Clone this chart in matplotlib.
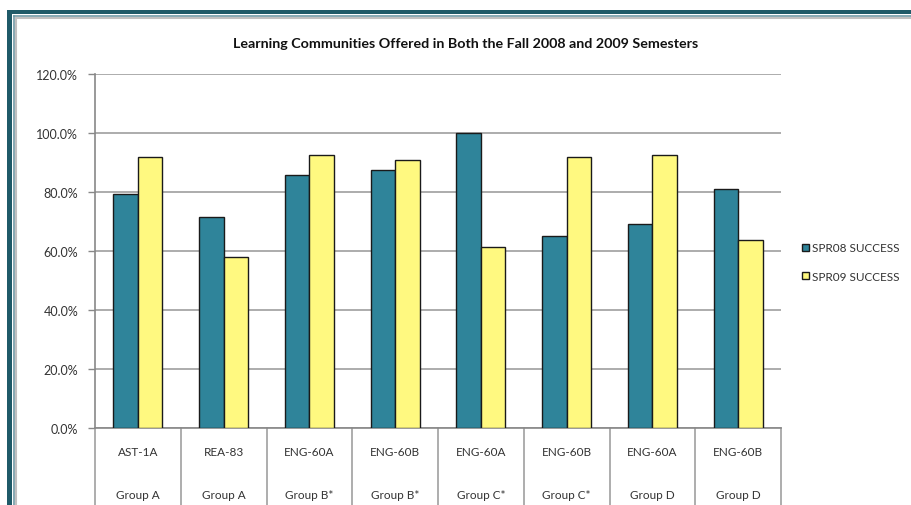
import matplotlib
matplotlib.use("Agg")
import matplotlib.pyplot as plt
from matplotlib.patches import Rectangle
from matplotlib.lines import Line2D
import matplotlib.transforms as mtransforms
import numpy as np

courses = ["AST-1A", "REA-83", "ENG-60A", "ENG-60B", "ENG-60A", "ENG-60B", "ENG-60A", "ENG-60B"]
groups = ["Group A", "Group A", "Group B*", "Group B*", "Group C*", "Group C*", "Group D", "Group D"]
spr08 = [79.3, 71.4, 85.8, 87.5, 100.0, 65.1, 69.3, 81.1]
spr09 = [92.0, 58.0, 92.4, 90.8, 61.4, 92.0, 92.4, 63.6]
series_names = ["SPR08 SUCCESS", "SPR09 SUCCESS"]
yticks = [0, 20, 40, 60, 80, 100, 120]

teal = "#2f849a"
yellow = "#fff980"
FONT = ["Lato", "DejaVu Sans"]
plt.rcParams["font.family"] = FONT

W, H = 911, 506
fig = plt.figure(figsize=(W / 100, H / 100), dpi=100)
fig.patch.set_facecolor("white")

def fx(px):
    return px / W

def fy(py):
    return 1 - py / H

# border decoration (top and left)
fig.patches.append(Rectangle((fx(7), fy(15)), 1, 4 / H, transform=fig.transFigure,
                             facecolor="#1f5a68", edgecolor="none", zorder=0))
fig.patches.append(Rectangle((fx(7), 0), 5 / W, fy(11), transform=fig.transFigure,
                             facecolor="#1f5a68", edgecolor="none", zorder=0))
fig.lines.append(Line2D([fx(13.5), fx(13.5)], [0, fy(16.5)], transform=fig.transFigure,
                        color="#6f9aa5", lw=1.2))
fig.lines.append(Line2D([fx(13.5), 1], [fy(16.5), fy(16.5)], transform=fig.transFigure,
                        color="#6f9aa5", lw=1.2))
fig.lines.append(Line2D([fx(16), fx(16)], [0, fy(19)], transform=fig.transFigure,
                        color="#c0c0c0", lw=1.5))
fig.lines.append(Line2D([fx(16), 1], [fy(19), fy(19)], transform=fig.transFigure,
                        color="#c0c0c0", lw=1.5))

left, right, top, bottom = 95, 781, 75, 429
ax = fig.add_axes([fx(left), fy(bottom), (right - left) / W, (bottom - top) / H])
ax.set_facecolor("none")

x = np.arange(len(courses))
bw = 0.286
ax.bar(x - bw / 2, spr08, bw, color=teal, edgecolor="#1a1a1a", linewidth=1.0, zorder=3,
       label=series_names[0])
ax.bar(x + bw / 2, spr09, bw, color=yellow, edgecolor="#1a1a1a", linewidth=1.0, zorder=3,
       label=series_names[1])

ax.set_xlim(-0.5, len(courses) - 0.5)
ax.set_ylim(0, 120)
ax.set_yticks(yticks)
ax.set_yticklabels([f"{v:.1f}%" for v in yticks], fontsize=9, color="#333333")
ax.yaxis.grid(True, color="#a6a6a6", linewidth=1.3, zorder=0)
ax.set_axisbelow(True)
ax.tick_params(axis="y", length=5, color="#888888", width=1, pad=7)
ax.set_xticks([])
for s in ["top", "right"]:
    ax.spines[s].set_visible(False)
ax.spines["left"].set_color("#888888")
ax.spines["bottom"].set_color("#888888")
ax.spines["left"].set_linewidth(1.2)
ax.spines["bottom"].set_linewidth(1.2)

# category table lines below axis
trans = mtransforms.blended_transform_factory(ax.transData, ax.transAxes)
for b in np.arange(-0.5, len(courses), 1.0):
    ax.plot([b, b], [0, -0.3], transform=trans, color="#a0a0a0", lw=1.2, clip_on=False)

for i in range(len(courses)):
    ax.text(x[i], (bottom - 453) / (bottom - top), courses[i], transform=trans,
            ha="center", va="center", fontsize=8.5, color="#333333")
    ax.text(x[i], (bottom - 496) / (bottom - top), groups[i], transform=trans,
            ha="center", va="center", fontsize=8.5, color="#333333")

fig.text(fx(466), fy(44), "Learning Communities Offered in Both the Fall 2008 and 2009 Semesters",
         ha="center", va="center", fontsize=10.3, fontweight="bold", color="#111111")

leg = fig.legend(handles=ax.patches[:1] + ax.patches[len(courses):len(courses) + 1],
                 labels=series_names, loc="center left",
                 bbox_to_anchor=(fx(791), fy(263)), frameon=False, fontsize=8.5,
                 handlelength=0.6, handleheight=0.6, handletextpad=0.3, labelspacing=1.45)
for t in leg.get_texts():
    t.set_color("#333333")

fig.savefig("out.png", dpi=100, facecolor="white")
